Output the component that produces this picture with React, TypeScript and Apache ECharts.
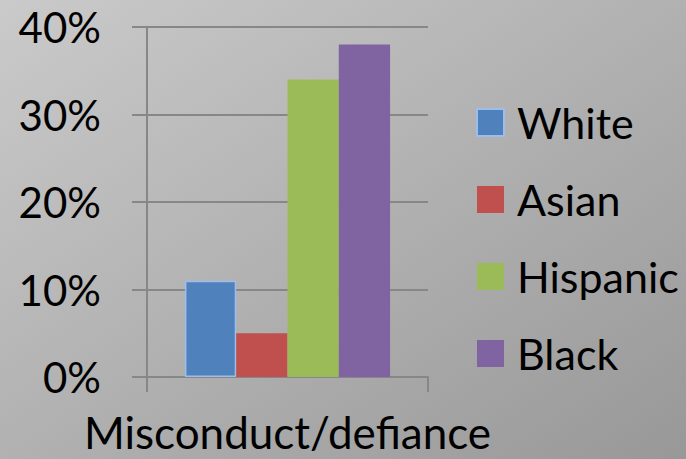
import React, { useEffect, useRef } from "react";
import * as echarts from "echarts";

const categories = ["Misconduct/defiance"];
const seriesNames = ["White", "Asian", "Hispanic", "Black"];
const seriesValues = [[11], [5], [34], [38]];
const seriesColors = ["#4F81BD", "#C0504D", "#9BBB59", "#8064A2"];
const yTicks = [0, 10, 20, 30, 40];

const FONT = "Lato";

export default function App() {
  const ref = useRef<HTMLDivElement>(null);

  useEffect(() => {
    if (!ref.current) return;
    const chart = echarts.init(ref.current, undefined, { renderer: "svg" });

    const series = seriesNames.map((name, i) => ({
      name,
      type: "bar" as const,
      data: seriesValues[i],
      barGap: "0%",
      barCategoryGap: "27%",
      itemStyle:
        i === 0
          ? { color: seriesColors[i], borderColor: "#9DBDEB", borderWidth: 1.5 }
          : { color: seriesColors[i] },
    }));

    chart.setOption({
      animation: false,
      backgroundColor: new echarts.graphic.LinearGradient(0, 0, 1, 1, [
        { offset: 0, color: "#cacaca" },
        { offset: 1, color: "#989898" },
      ]),
      grid: { left: 147, right: 258, top: 27, bottom: 82, containLabel: false },
      legend: {
        orient: "vertical",
        left: 471,
        top: 96,
        itemWidth: 27,
        itemHeight: 27,
        itemGap: 34,
        icon: "rect",
        data: seriesNames,
        textStyle: {
          fontFamily: FONT,
          fontSize: 43,
          color: "#000",
          lineHeight: 40,
          padding: [0, 0, 0, 8],
        },
      },
      xAxis: {
        type: "category",
        data: categories,
        axisLine: { show: true, lineStyle: { color: "#878787", width: 2 } },
        axisTick: { show: true, length: 15, lineStyle: { color: "#878787", width: 2 } },
        axisLabel: {
          fontFamily: FONT,
          fontSize: 44,
          lineHeight: 36,
          color: "#000",
          margin: 37,
        },
        splitLine: { show: false },
      },
      yAxis: {
        type: "value",
        min: yTicks[0],
        max: yTicks[yTicks.length - 1],
        interval: 10,
        axisLine: { show: true, lineStyle: { color: "#878787", width: 2 } },
        axisTick: { show: true, length: 15, lineStyle: { color: "#878787", width: 2 } },
        splitLine: { show: true, lineStyle: { color: "#878787", width: 2 } },
        axisLabel: {
          fontFamily: FONT,
          fontSize: 42,
          color: "#000",
          margin: 46,
          formatter: (v: number) => `${v}%`,
        },
      },
      series,
    });

    return () => chart.dispose();
  }, []);

  return (
    <div
      ref={ref}
      style={{ position: "fixed", left: 0, top: 0, width: 686, height: 459 }}
    />
  );
}
